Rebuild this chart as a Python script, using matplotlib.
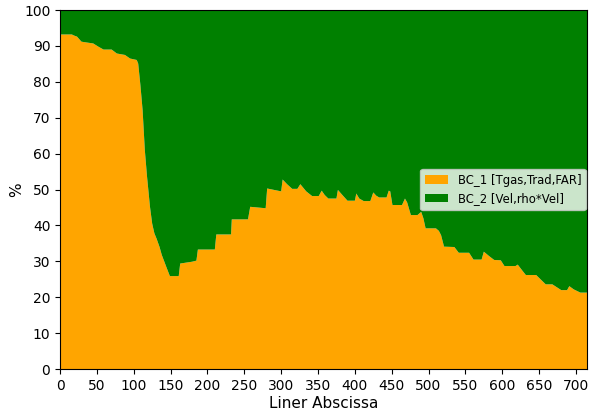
import matplotlib
matplotlib.use("Agg")
import matplotlib.pyplot as plt

x = [0, 16, 19, 23, 29, 35, 45, 52, 59, 70, 77, 88, 95, 104, 106, 109, 112, 115, 118, 122,
     125, 128, 131, 135, 138, 145, 149, 161, 163, 179, 185, 187, 210, 212, 232, 233, 255, 258, 279, 281,
     300, 302, 308, 315, 322, 326, 334, 342, 351, 355, 359, 364, 375, 377, 383, 390, 400, 402,
     406, 412, 421, 425, 429, 433, 443, 446, 448, 451, 464, 468, 471, 476, 485, 490, 493, 496,
     510, 514, 517, 521, 535, 541, 555, 561, 572, 575, 582, 589, 598, 603, 618, 621, 627, 632,
     646, 652, 659, 668, 674, 680, 688, 691, 697, 706, 715]

bc1 = [93.2, 93.2, 92.9, 92.6, 91.2, 91.0, 90.7, 89.8, 89.0, 89.0, 87.9, 87.5, 86.5, 86.1, 85.1,
       79.1, 72.1, 61.0, 53.6, 45.2, 40.5, 37.8, 36.3, 34.0, 31.8, 28.0, 25.9, 25.9, 29.4, 29.9, 30.2, 33.3,
       33.3, 37.5, 37.5, 41.7, 41.7, 45.2, 44.8, 50.3, 49.5, 52.8, 51.5, 50.2, 50.2, 51.5, 49.5,
       48.2, 48.2, 49.7, 48.5, 47.5, 47.5, 49.9, 48.5, 46.9, 46.9, 48.9, 47.5, 46.8, 46.8, 49.2,
       48.3, 47.8, 47.8, 49.7, 49.5, 45.7, 45.7, 47.5, 46.4, 42.9, 42.9, 43.8, 42.0, 39.2, 39.2,
       38.5, 37.3, 34.1, 34.0, 32.4, 32.4, 30.5, 30.5, 32.7, 31.5, 30.4, 30.3, 28.7, 28.7, 29.1,
       27.5, 26.2, 26.2, 25.0, 23.6, 23.6, 22.8, 22.0, 22.0, 23.1, 22.2, 21.3, 21.3]

bc2 = [6.8, 6.8, 7.1, 7.4, 8.8, 9.0, 9.3, 10.2, 11.0, 11.0, 12.1, 12.5, 13.5, 13.9, 14.9,
       20.9, 27.9, 39.0, 46.4, 54.8, 59.5, 62.2, 63.7, 66.0, 68.2, 72.0, 74.1, 74.1, 70.6, 70.1, 69.8, 66.7,
       66.7, 62.5, 62.5, 58.3, 58.3, 54.8, 55.2, 49.7, 50.5, 47.2, 48.5, 49.8, 49.8, 48.5, 50.5,
       51.8, 51.8, 50.3, 51.5, 52.5, 52.5, 50.1, 51.5, 53.1, 53.1, 51.1, 52.5, 53.2, 53.2, 50.8,
       51.7, 52.2, 52.2, 50.3, 50.5, 54.3, 54.3, 52.5, 53.6, 57.1, 57.1, 56.2, 58.0, 60.8, 60.8,
       61.5, 62.7, 65.9, 66.0, 67.6, 67.6, 69.5, 69.5, 67.3, 68.5, 69.6, 69.7, 71.3, 71.3, 70.9,
       72.5, 73.8, 73.8, 75.0, 76.4, 76.4, 77.2, 78.0, 78.0, 76.9, 77.8, 78.7, 78.7]

labels = ["BC_1 [Tgas,Trad,FAR]", "BC_2 [Vel,rho*Vel]"]
colors = ["orange", "green"]

fig = plt.figure(figsize=(5.89, 4.11), dpi=100)
ax = fig.add_axes([0.102, 0.102, 0.8946, 0.8735])
ax.stackplot(x, bc1, bc2, labels=labels, colors=colors)
ax.set_xlim(0, 715)
ax.set_ylim(0, 100)
ax.set_xticks(range(0, 701, 50))
ax.set_yticks(range(0, 101, 10))
ax.set_xlabel("Liner Abscissa", fontsize=11, labelpad=2)
ax.set_ylabel("%", fontsize=11, labelpad=0)
ax.legend(loc="center right", fontsize=8.4, borderaxespad=0.1)
fig.savefig("out.png", dpi=100)
